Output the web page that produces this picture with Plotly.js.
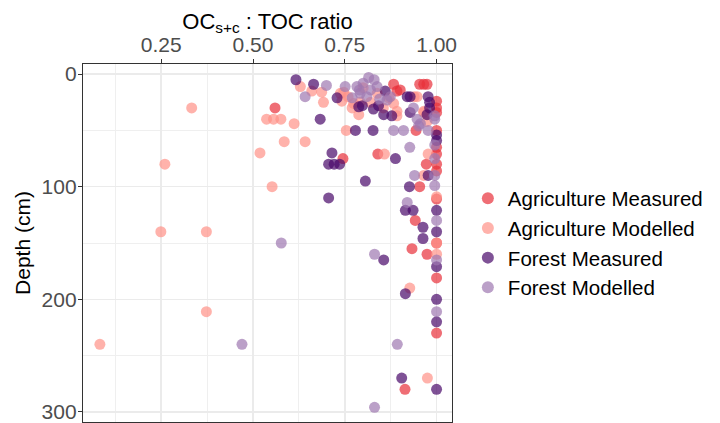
<!DOCTYPE html>
<html>
<head>
<meta charset="utf-8">
<script src="https://cdn.plot.ly/plotly-3.0.1.min.js"></script>
<style>
  html, body { margin: 0; padding: 0; background: #ffffff; }
  #chart { width: 720px; height: 423px; }
</style>
</head>
<body>
<div id="chart"></div>
<script>
// OC(s+c) : TOC ratio by soil depth, agriculture vs forest, measured vs modelled

const agMeasuredRatio = [0.56, 0.745, 0.84, 0.883, 0.892, 0.901, 0.954, 0.965, 0.974, 1.0, 1.0, 1.0, 0.944, 1.0, 0.972, 1.0, 1.0, 1.0, 0.954, 1.0, 0.942, 0.933, 0.974, 1.0, 1.0, 1.0, 0.914, 1.0];
const agMeasuredDepth = [30, 75, 71, 9, 15, 14, 9, 9, 9, 24, 30, 34, 50, 50, 80, 71, 80, 86, 100, 111, 130, 155, 160, 150, 181, 230, 280, 65];

const agModelledRatio = [0.333, 0.537, 0.556, 0.576, 0.519, 0.26, 0.552, 0.585, 0.642, 0.612, 0.629, 0.66, 0.687, 0.692, 0.738, 0.742, 0.77, 0.788, 0.754, 0.858, 0.892, 0.939, 0.965, 0.965, 0.977, 1.0, 1.0, 0.249, 0.373, 0.373, 0.083, 0.927, 0.975, 0.774, 0.747, 0.759, 0.792, 0.82, 0.838, 0.892, 0.883, 0.947, 0.965, 0.974, 1.0, 0.855, 0.87, 0.80];
const agModelledDepth = [30, 40, 40, 40, 70, 80, 100, 60, 60, 44, 11, 15, 16, 25, 17, 24, 30, 36, 50, 71, 37, 20, 34, 90, 71, 109, 160, 140, 140, 211, 240, 190, 270, 26, 16, 20, 25, 25, 17, 33, 26, 20, 33, 42, 150, 30, 21, 12];

const forestMeasuredRatio = [0.617, 0.665, 0.683, 0.729, 0.788, 0.779, 0.827, 0.715, 0.706, 0.721, 0.736, 0.888, 0.806, 0.706, 0.926, 0.842, 0.856, 0.878, 0.828, 0.86, 0.92, 0.928, 0.928, 0.977, 0.981, 0.974, 0.981, 1.0, 1.0, 0.977, 0.915, 0.936, 0.963, 0.963, 0.856, 0.915, 1.0, 1.0, 1.0, 1.0, 1.0, 0.905, 1.0, 0.798];
const forestMeasuredDepth = [5, 9, 40, 21, 29, 50, 50, 70, 80, 80, 80, 75, 95, 110, 100, 28, 36, 37, 31, 15, 20, 20, 34, 20, 25, 36, 30, 54, 59, 90, 121, 121, 136, 146, 165, 195, 121, 140, 171, 200, 220, 270, 280, 28];

const forestModelledRatio = [0.642, 0.70, 0.751, 0.77, 0.783, 0.792, 0.815, 0.82, 0.838, 0.874, 0.865, 0.883, 0.91, 0.977, 0.927, 0.94, 0.937, 0.947, 0.951, 0.995, 0.995, 0.956, 0.995, 0.995, 0.995, 0.995, 0.92, 1.0, 0.577, 0.831, 1.0, 1.0, 0.47, 0.893, 0.831, 0.80, 0.83, 0.81, 0.845, 0.79];
const forestModelledDepth = [20, 10, 11, 21, 11, 17, 3, 14, 11, 20, 23, 50, 50, 50, 65, 90, 30, 40, 46, 37, 40, 44, 63, 75, 90, 99, 114, 130, 150, 160, 165, 211, 240, 240, 296, 8, 5, 20, 22, 14];

const seriesNames = ['Agriculture Measured', 'Agriculture Modelled', 'Forest Measured', 'Forest Modelled'];
const seriesColors = ['#E8303A', '#FF9188', '#490869', '#9E77B0'];

const xTickVals = [0.25, 0.5, 0.75, 1.0];
const xMinorVals = [0.125, 0.375, 0.625, 0.875];
const yTickVals = [0, 100, 200, 300];
const yMinorVals = [50, 150, 250];

const ratios = [agMeasuredRatio, agModelledRatio, forestMeasuredRatio, forestModelledRatio];
const depths = [agMeasuredDepth, agModelledDepth, forestMeasuredDepth, forestModelledDepth];

const traces = seriesNames.map((name, i) => ({
  type: 'scatter',
  mode: 'markers',
  name: name,
  x: ratios[i],
  y: depths[i],
  marker: { color: seriesColors[i], size: 11, opacity: 0.7, line: { width: 0 } },
  hoverinfo: 'x+y+name'
}));

const fontFamily = '"Liberation Sans", Arial, Helvetica, sans-serif';

const layout = {
  width: 720,
  height: 423,
  margin: { l: 83, r: 268, t: 64, b: 1, pad: 0 },
  paper_bgcolor: '#ffffff',
  plot_bgcolor: '#ffffff',
  font: { family: fontFamily, color: '#000000' },
  // x-axis title sits above the top tick labels, centred on the plot area
  title: {
    text: 'OC<sub>s+c</sub> : TOC ratio',
    font: { family: fontFamily, size: 22, color: '#000000' },
    xref: 'paper', x: 0.5, xanchor: 'center',
    yref: 'container', y: 0.95, yanchor: 'middle'
  },
  showlegend: true,
  legend: {
    x: 1.043, xanchor: 'left',
    y: 0.5, yanchor: 'middle',
    font: { family: fontFamily, size: 20.5, color: '#000000' },
    bgcolor: 'rgba(0,0,0,0)',
    itemsizing: 'constant',
    tracegroupgap: 0
  },
  xaxis: {
    side: 'top',
    range: [0.037, 1.042],
    tickvals: xTickVals,
    ticktext: xTickVals.map(v => v.toFixed(2)),
    ticks: 'outside',
    ticklen: 4,
    tickwidth: 1,
    tickcolor: '#333333',
    ticklabelstandoff: -2,
    tickfont: { family: fontFamily, size: 21, color: '#4D4D4D' },
    showgrid: true,
    gridcolor: '#EBEBEB',
    gridwidth: 1.5,
    minor: { tickvals: xMinorVals, showgrid: true, gridcolor: '#EFEFEF', gridwidth: 1, ticks: '' },
    zeroline: false,
    showline: true,
    mirror: true,
    linecolor: '#333333',
    linewidth: 1.2
  },
  yaxis: {
    autorange: false,
    range: [309, -9],
    tickvals: yTickVals,
    ticks: 'outside',
    ticklen: 4,
    tickwidth: 1,
    tickcolor: '#333333',
    ticklabelstandoff: -3,
    ticklabeloverflow: 'allow',
    tickfont: { family: fontFamily, size: 21, color: '#4D4D4D' },
    showgrid: true,
    gridcolor: '#EBEBEB',
    gridwidth: 1.5,
    minor: { tickvals: yMinorVals, showgrid: true, gridcolor: '#EFEFEF', gridwidth: 1, ticks: '' },
    zeroline: false,
    showline: true,
    mirror: true,
    linecolor: '#333333',
    linewidth: 1.2,
    title: { text: 'Depth (cm)', font: { family: fontFamily, size: 21, color: '#000000' }, standoff: 5 }
  }
};

Plotly.newPlot('chart', traces, layout, { displayModeBar: false, staticPlot: true });
</script>
</body>
</html>
